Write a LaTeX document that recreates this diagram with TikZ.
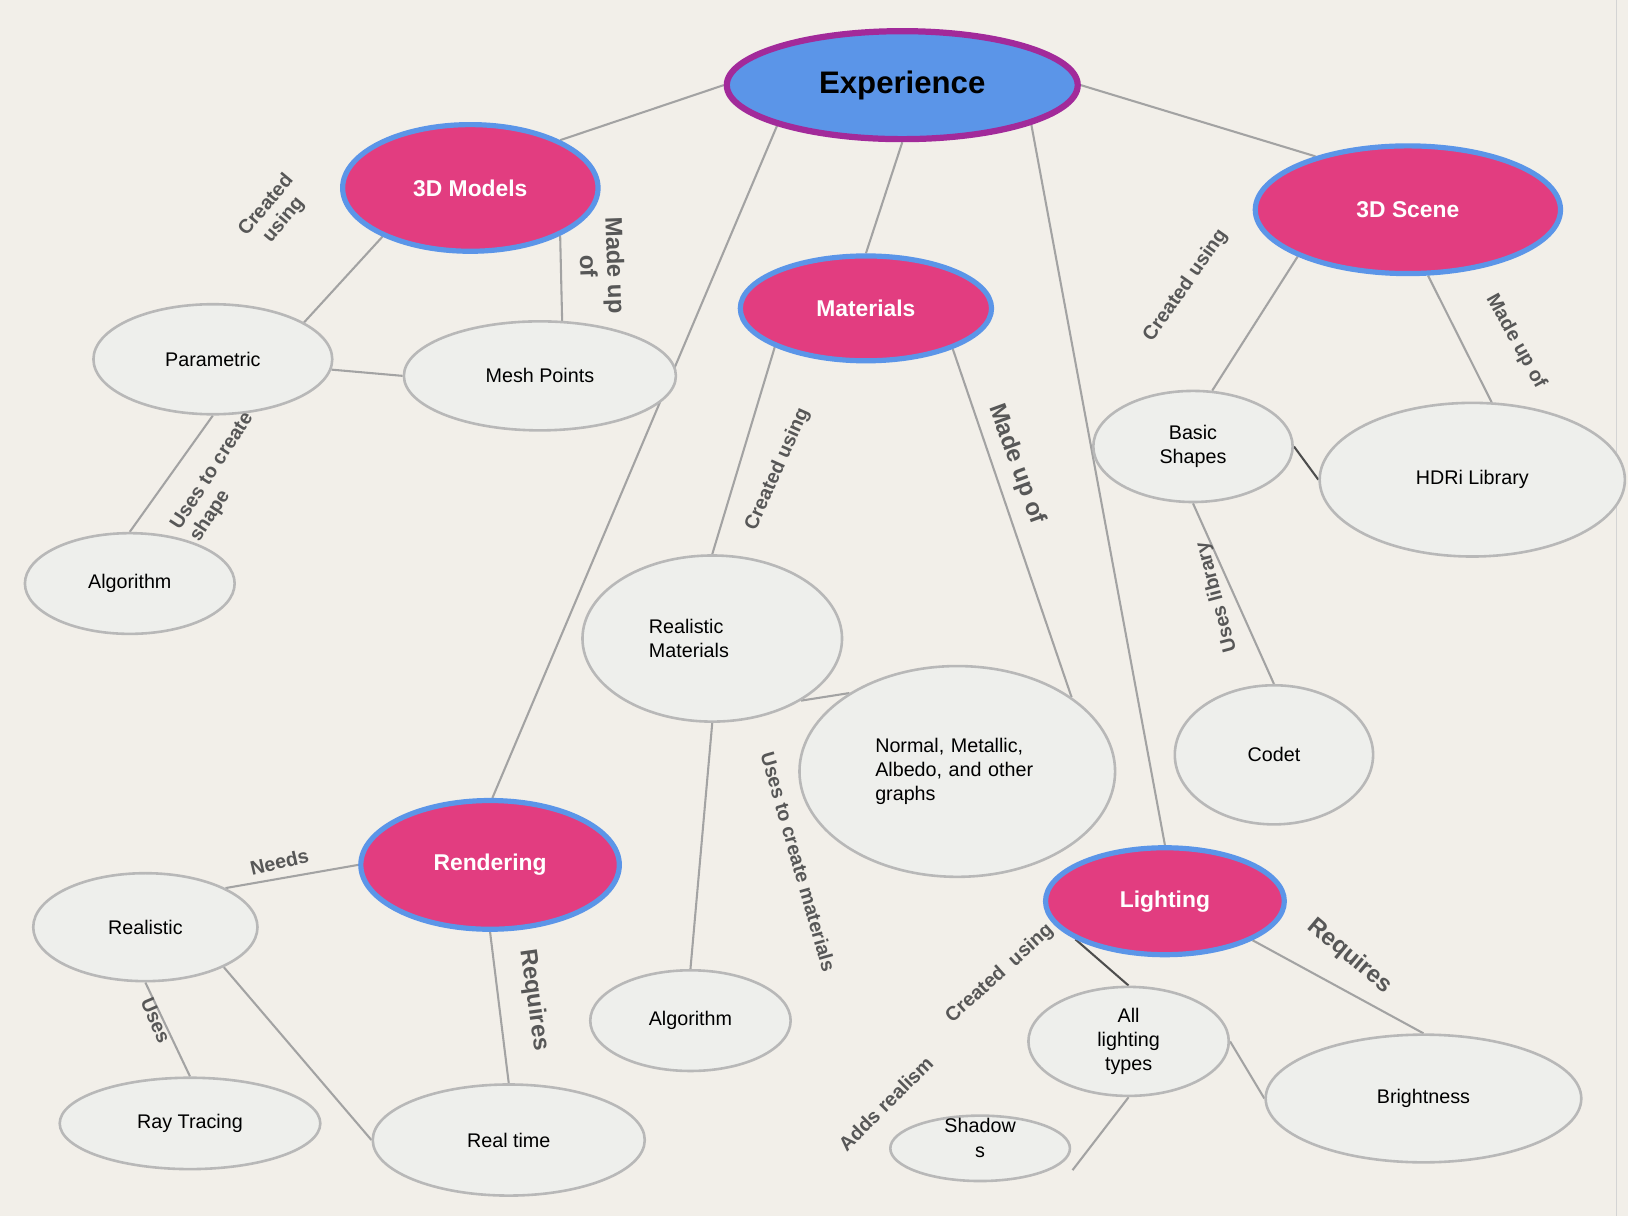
\documentclass[tikz,border=0pt]{standalone}
\usepackage{fontspec}
\setmainfont{Liberation Sans}
\usetikzlibrary{shapes.geometric, backgrounds}

\definecolor{paper}{HTML}{F2EFE9}
\definecolor{expblue}{HTML}{5B95E8}
\definecolor{expborder}{HTML}{A22A9A}
\definecolor{topicpink}{HTML}{E23D80}
\definecolor{leafgray}{HTML}{EEEFEC}
\definecolor{leafborder}{HTML}{B8B8B8}
\definecolor{linkgray}{HTML}{A3A3A3}
\definecolor{linkdark}{HTML}{4D4D4D}
\definecolor{lblgray}{HTML}{575757}
\definecolor{framegray}{HTML}{D4D4D4}

\begin{document}
\begin{tikzpicture}[
  x=1pt, y=-1pt,
  mainnode/.style={ellipse, draw=expborder, line width=6pt, fill=expblue, inner sep=0pt, font=\fontsize{30}{34}\selectfont\bfseries},
  topic/.style={ellipse, draw=expblue, line width=5pt, fill=topicpink, text=white, inner sep=0pt, font=\fontsize{22}{26}\selectfont\bfseries},
  leaf/.style={ellipse, draw=leafborder, line width=2.5pt, fill=leafgray, inner sep=0pt, align=center, font=\fontsize{19}{23.5}\selectfont},
  leaftext/.style={inner sep=0pt, align=center, font=\fontsize{19}{23.5}\selectfont},
  link/.style={draw=linkgray, line width=2pt},
  darklink/.style={draw=linkdark, line width=2pt},
  lbl/.style={text=lblgray, align=center, inner sep=0pt, font=\fontsize{19}{22}\selectfont\bfseries},
  biglbl/.style={lbl, font=\fontsize{23}{26}\selectfont\bfseries}
]
\useasboundingbox (0,0) rectangle (1568,1171);

\begin{scope}[on background layer]
  \fill[paper] (0,0) rectangle (1568,1171);
  \draw[framegray, line width=1.5pt] (1557,0) -- (1557,1171);
\end{scope}

% Centre and topics
\node[mainnode, minimum width=338, minimum height=104] (exp) at (869,82) {Experience};
\node[topic, minimum width=246, minimum height=122] (models) at (453,181) {3D Models};
\node[topic, minimum width=294, minimum height=123] (scene) at (1356,202) {3D Scene};
\node[topic, minimum width=242, minimum height=101] (mats) at (834,297) {Materials};
\node[topic, minimum width=249, minimum height=124] (rend) at (472,833) {Rendering};
\node[topic, minimum width=230, minimum height=103] (light) at (1122,868) {Lighting};

% Leaves
\node[leaf, minimum width=230, minimum height=106] (param) at (205,346) {Parametric};
\node[leaf, minimum width=262, minimum height=105] (mesh) at (520,362) {Mesh Points};
\node[leaf, minimum width=202, minimum height=97] (algoA) at (125,562) {Algorithm};
\node[leaf, minimum width=192, minimum height=107] (basic) at (1149,430) {Basic\\Shapes};
\node[leaf, minimum width=294, minimum height=148] (hdri) at (1418,462) {HDRi Library};
\node[leaf, minimum width=250, minimum height=160, text width=122, align=left] (realmat) at (686,615) {Realistic\\Materials};
\node[leaf, minimum width=304, minimum height=203, text width=158, align=left] (normal) at (922,743) {Normal, Metallic,\\Albedo, and other\\graphs};
\node[leaf, minimum width=191, minimum height=134] (codet) at (1227,727) {Codet};
\node[leaf, minimum width=216, minimum height=104] (realistic) at (140,893) {Realistic};
\node[leaf, minimum width=251, minimum height=88] (ray) at (183,1082) {Ray Tracing};
\node[leaf, minimum width=262, minimum height=107] (realtime) at (490,1098) {Real time};
\node[leaf, minimum width=193, minimum height=97] (algoB) at (665,983) {Algorithm};
\node[leaf, minimum width=193, minimum height=105] (alltypes) at (1087,1003) {All\\lighting\\types};
\node[leaf, minimum width=304, minimum height=123] (bright) at (1371,1058) {Brightness};
\node[leaf, minimum width=173, minimum height=63] (shadows) at (944,1106) {};
\node[leaftext] (shadowstext) at (944,1096) {Shadow\\s};
\coordinate (shadowsend) at (1033,1127);

% Links
\begin{scope}[on background layer]
  \draw[link] (exp.west) -- (models.28);
  \draw[link] (exp.east) -- (scene.150);
  \draw[link] (exp.south) -- (mats.north);
  \draw[link] (exp.-162) -- (rend.88);
  \draw[link] (exp.-17) -- (light.north);
  \draw[link] (models.-151) -- (param.22);
  \draw[link] (models.-28) -- (mesh.68);
  \draw[link] (param.-5) -- (mesh.west);
  \draw[link] (param.south) -- (algoA.north);
  \draw[link] (scene.-157) -- (basic.71);
  \draw[link] (scene.-73) -- (hdri.76);
  \draw[darklink] (basic.east) -- (hdri.west);
  \draw[link] (basic.south) -- (codet.north);
  \draw[link] (mats.-157) -- (realmat.north);
  \draw[link] (mats.-25) -- (normal.33);
  \draw[link] (realmat.-35) -- (normal.144);
  \draw[link] (realmat.south) -- (algoB.north);
  \draw[link] (rend.west) -- (realistic.26);
  \draw[link] (rend.south) -- (realtime.north);
  \draw[link] (realistic.south) -- (ray.north);
  \draw[link] (realistic.-27) -- (realtime.west);
  \draw[darklink] (light.-157) -- (alltypes.north);
  \draw[link] (light.-24) -- (bright.north);
  \draw[link] (alltypes.east) -- (bright.west);
  \draw[link] (alltypes.south) -- (shadowsend);
\end{scope}

% Link labels
\node[lbl, rotate=50] (lblmodelsusing) at (265,205) {Created\\using};
\node[biglbl, rotate=-88] (lblmodelsmade) at (580,256) {Made up\\of};
\node[lbl, rotate=57, align=left] (lblparamalgo) at (214,460) {Uses to create\\shape};
\node[lbl, rotate=66] (lblmatsusing) at (749,452) {Created using};
\node[biglbl, rotate=-70] (lblmatsmade) at (979,447) {Made up of};
\node[lbl, rotate=-74] (lblrealmatalgo) at (769,830) {Uses to create materials};
\node[lbl, rotate=55] (lblsceneusing) at (1142,275) {Created using};
\node[lbl, rotate=-61] (lblscenemade) at (1460,329) {Made up of};
\node[lbl, rotate=105] (lblbasiccodet) at (1172,575) {Uses library};
\node[lbl, rotate=13] (lblneeds) at (269,830) {Needs};
\node[lbl, rotate=-67] (lbluses) at (150,983) {Uses};
\node[biglbl, rotate=-82] (lblrendreq) at (514,963) {Requires};
\node[lbl, rotate=42] (lbllightusing) at (963,938) {Created\ \ using};
\node[biglbl, rotate=-40] (lbllightreq) at (1300,921) {Requires};
\node[lbl, rotate=45] (lblrealism) at (853,1063) {Adds realism};

\end{tikzpicture}
\end{document}
